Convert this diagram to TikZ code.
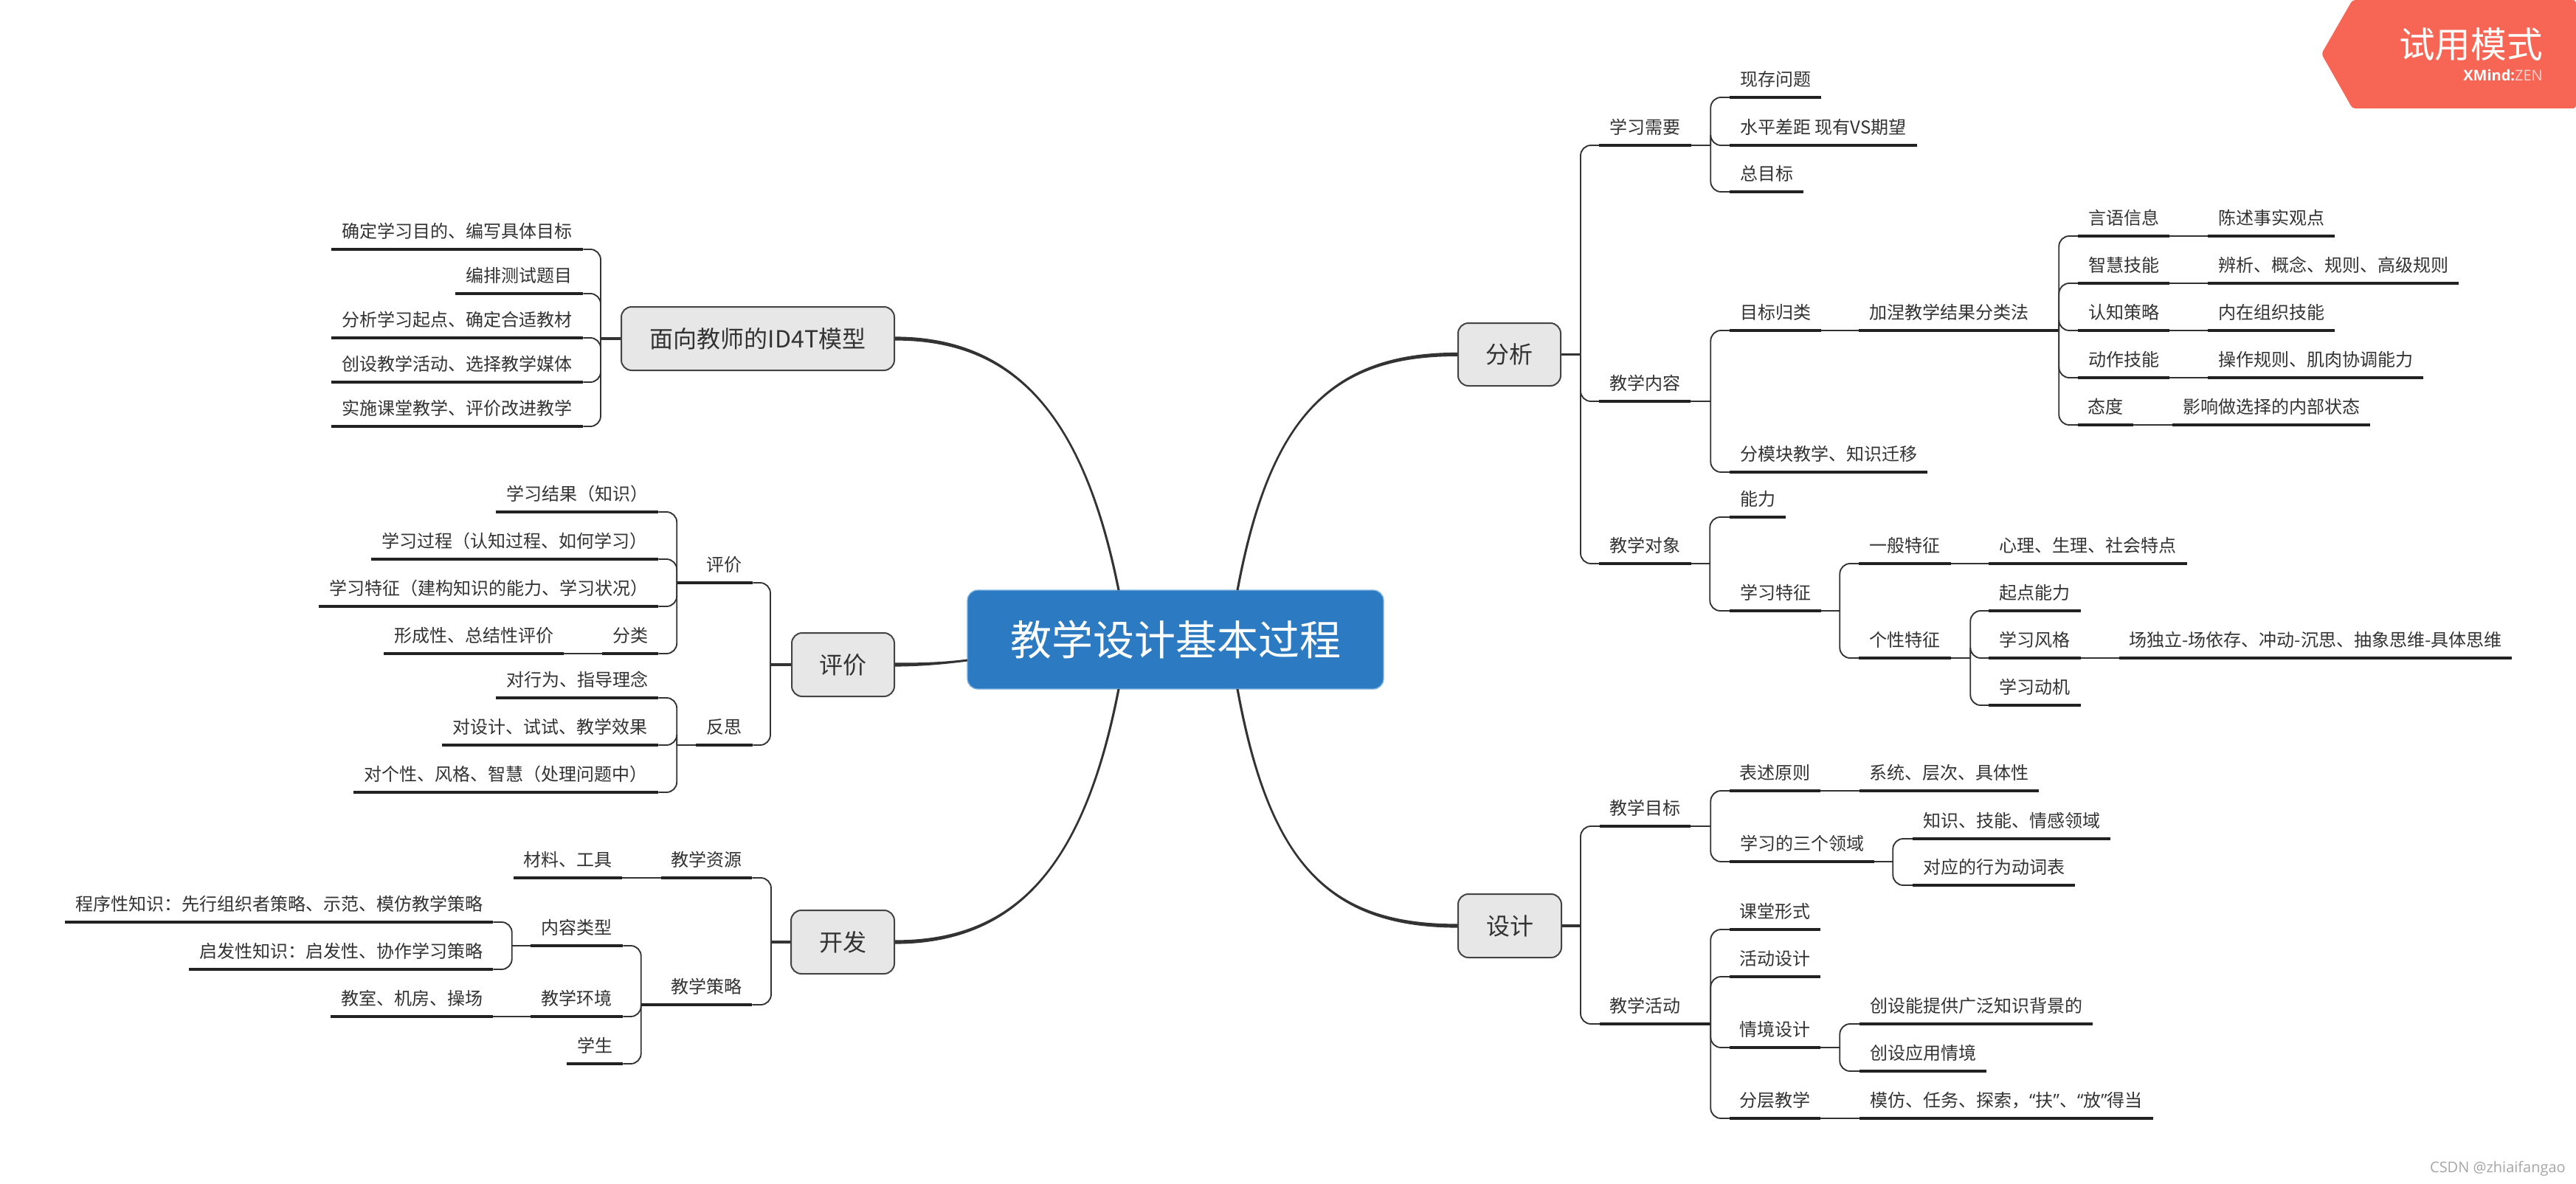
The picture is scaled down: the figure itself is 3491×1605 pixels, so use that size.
\documentclass[tikz,border=0pt]{standalone}
\usepackage{fontspec}
\setmainfont{Noto Sans CJK SC}
\newfontfamily\latinf{Open Sans}
\usetikzlibrary{calc}
\definecolor{ink}{HTML}{333333}
\definecolor{uline}{HTML}{222222}
\definecolor{rootblue}{HTML}{2C7BC2}
\definecolor{rootedge}{HTML}{7DB3E0}
\definecolor{boxfill}{HTML}{E7E7E7}
\definecolor{boxedge}{HTML}{444444}
\definecolor{banner}{HTML}{F76554}
\tikzset{
  topic/.style={inner sep=0pt,anchor=south,text=ink,text height=18.75pt,text depth=11.25pt,font=\fontsize{18}{20}\selectfont},
  underl/.style={draw=uline,line width=2.8pt},
  elbow/.style={draw=ink,line width=1.4pt,rounded corners=10.5pt},
  stubline/.style={draw=ink,line width=1.4pt},
  mainstub/.style={draw=ink,line width=2.6pt},
  maintopic/.style={draw=boxedge,fill=boxfill,line width=1.5pt,rounded corners=10.5pt,inner sep=0pt,text=ink,font=\fontsize{24}{28}\selectfont},
  rootnode/.style={draw=rootedge,fill=rootblue,line width=1pt,rounded corners=10.5pt,inner sep=0pt,text=white,font=\fontsize{42}{48}\selectfont},
}
% \Tp{name}{x0}{x1}{y}{text}: label with its underline
\newcommand\Tp[5]{%
  \node[topic,minimum width={(#3-#2)*0.75pt}] (#1) at ({(#2+#3)/2},#4) {#5};
  \draw[underl] (#1.south west) -- (#1.south east);}
% \Mt{name}{x0}{x1}{y0}{y1}{text}
\newcommand\Mt[6]{%
  \node[maintopic,minimum width={(#3-#2)*0.75pt},minimum height={(#5-#4)*0.75pt}] (#1) at ({(#2+#3)/2},{(#4+#5)/2}) {#6};}
% \Fork[stubstyle]{from}{dx}{child anchor}{children}
\newcommand\Fork[5][stubline]{%
  \path (#2) ++(#3,0) coordinate (fk);
  \draw[#1] (#2) -- (fk);
  \foreach \cc in {#5} {\draw[elbow] (fk) |- (\cc.#4);}}
% \Taper{from}{c1}{c2}{to}{nx}{ny}{sign}: curve that thickens toward its end
\newcommand\Taper[7]{%
  \fill[ink] ($(#1)+(#5,#6)$) .. controls ($(#2)+(#5,#6)$) and ($(#3)+(0,#7*2.3)$) .. ($(#4)+(0,#7*2.6)$)
    -- ($(#4)-(0,#7*2.6)$) .. controls ($(#3)-(0,#7*2.3)$) and ($(#2)-(#5,#6)$) .. ($(#1)-(#5,#6)$) -- cycle;}
\begin{document}
\begin{tikzpicture}[x=0.75pt,y=-0.75pt]
\useasboundingbox (0,0) rectangle (3491,1605);
\fill[white] (0,0) rectangle (3491,1605);

% banner
\fill[banner,rounded corners=3pt] (3491,0) -- (3188,0) -- (3146,73) -- (3188,147) -- (3491,147) -- cycle;
\node[text=white,inner sep=0pt,anchor=east,font=\fontsize{36.5}{40}\selectfont] (bannertxt) at (3446,60) {试用模式};
\node[inner sep=0pt,anchor=east,font=\latinf\fontsize{15}{18}\selectfont] (bannersub) at (3446,102) {\textcolor{white}{\bfseries XMind:}\textcolor{white!70!banner}{ZEN}};
\node[text=black!35,inner sep=0pt,anchor=east,font=\latinf\fontsize{15}{18}\selectfont] (mark) at (3477,1584) {CSDN @zhiaifangao};

% root and main topics
\node[rootnode,minimum width=423pt,minimum height=100.5pt] (root) at (1593,867) {教学设计基本过程};
\Mt{fenxi}{1976}{2115}{438}{523}{分析}
\Mt{sheji}{1976}{2116}{1212}{1298}{设计}
\Mt{idt}{842}{1212}{416}{502}{面向教师的ID4T模型}
\Mt{pingjia}{1073}{1212}{858}{944}{评价}
\Mt{kaifa}{1072}{1212}{1234}{1320}{开发}

\coordinate (rA) at (1677,800);
\coordinate (rB) at (1677,934);
\coordinate (rC) at (1516,800);
\coordinate (rD) at (1516,934);
\coordinate (rE) at (1311,895);
\Taper{rA}{1720,570}{1800,480}{fenxi.west}{1.6}{0}{1}
\Taper{rB}{1720,1170}{1800,1255}{sheji.west}{1.6}{0}{-1}
\Taper{rC}{1470,570}{1380,459}{idt.east}{1.6}{0}{-1}
\Taper{rD}{1470,1170}{1380,1277}{kaifa.east}{1.6}{0}{1}
\Taper{rE}{1280,899}{1250,901}{pingjia.east}{0}{1.5}{1}

% ---- 分析
\Tp{a1}{2167}{2292}{197}{学习需要}
\Tp{a2}{2167}{2291}{544}{教学内容}
\Tp{a3}{2167}{2292}{764}{教学对象}
\Fork[mainstub]{fenxi.east}{26}{south west}{a1,a2,a3}
\Tp{a11}{2344}{2468}{132}{现存问题}
\Tp{a12}{2344}{2598}{197}{水平差距 现有VS期望}
\Tp{a13}{2344}{2444}{260}{总目标}
\Fork{a1.south east}{26}{south west}{a11,a12,a13}
\Tp{a21}{2344}{2468}{448}{目标归类}
\Tp{a22}{2344}{2612}{640}{分模块教学、知识迁移}
\Fork{a2.south east}{27}{south west}{a21,a22}
\Tp{a211}{2519}{2764}{448}{加涅教学结果分类法}
\draw[stubline] (a21.south east) -- (a211.south west);
\Tp{b1}{2816}{2940}{320}{言语信息}
\Tp{b2}{2816}{2940}{384}{智慧技能}
\Tp{b3}{2816}{2940}{448}{认知策略}
\Tp{b4}{2816}{2940}{512}{动作技能}
\Tp{b5}{2816}{2891}{576}{态度}
\Fork[underl]{a211.south east}{26}{south west}{b1,b2,b3,b4,b5}
\Tp{c1}{2992}{3164}{320}{陈述事实观点}
\Tp{c2}{2992}{3332}{384}{辨析、概念、规则、高级规则}
\Tp{c3}{2992}{3164}{448}{内在组织技能}
\Tp{c4}{2992}{3284}{512}{操作规则、肌肉协调能力}
\Tp{c5}{2944}{3212}{576}{影响做选择的内部状态}
\draw[stubline] (b1.south east) -- (c1.south west);
\draw[stubline] (b2.south east) -- (c2.south west);
\draw[stubline] (b3.south east) -- (c3.south west);
\draw[stubline] (b4.south east) -- (c4.south west);
\draw[stubline] (b5.south east) -- (c5.south west);
\Tp{a31}{2344}{2420}{701}{能力}
\Tp{a32}{2344}{2468}{828}{学习特征}
\Fork{a3.south east}{25}{south west}{a31,a32}
\Tp{a321}{2519}{2644}{764}{一般特征}
\Tp{a322}{2519}{2644}{892}{个性特征}
\Fork{a32.south east}{25}{south west}{a321,a322}
\Tp{d1}{2695}{2964}{764}{心理、生理、社会特点}
\draw[stubline] (a321.south east) -- (d1.south west);
\Tp{d2}{2695}{2820}{828}{起点能力}
\Tp{d3}{2695}{2820}{892}{学习风格}
\Tp{d4}{2695}{2820}{956}{学习动机}
\Fork{a322.south east}{26}{south west}{d2,d3,d4}
\Tp{d31}{2872}{3404}{892}{场独立-场依存、冲动-沉思、抽象思维-具体思维}
\draw[stubline] (d3.south east) -- (d31.south west);

% ---- 设计
\Tp{s1}{2168}{2291}{1120}{教学目标}
\Tp{s2}{2168}{2291}{1388}{教学活动}
\Fork[mainstub]{sheji.east}{25}{south west}{s1,s2}
\Tp{s11}{2344}{2467}{1072}{表述原则}
\Tp{s12}{2344}{2540}{1168}{学习的三个领域}
\Fork{s1.south east}{27}{south west}{s11,s12}
\Tp{s111}{2520}{2763}{1072}{系统、层次、具体性}
\draw[stubline] (s11.south east) -- (s111.south west);
\Tp{s121}{2592}{2860}{1137}{知识、技能、情感领域}
\Tp{s122}{2592}{2812}{1200}{对应的行为动词表}
\Fork{s12.south east}{25}{south west}{s121,s122}
\Tp{s21}{2344}{2467}{1260}{课堂形式}
\Tp{s22}{2344}{2467}{1324}{活动设计}
\Tp{s23}{2344}{2467}{1420}{情境设计}
\Tp{s24}{2344}{2467}{1516}{分层教学}
\Fork[underl]{s2.south east}{27}{south west}{s21,s22,s23,s24}
\Tp{s231}{2520}{2836}{1388}{创设能提供广泛知识背景的}
\Tp{s232}{2520}{2692}{1452}{创设应用情境}
\Fork{s23.south east}{26}{south west}{s231,s232}
\Tp{s241}{2520}{2918}{1516}{模仿、任务、探索，{\latinf “}扶{\latinf ”}、{\latinf “}放{\latinf ”}得当}
\draw[stubline] (s24.south east) -- (s241.south west);

% ---- 面向教师的ID4T模型
\Tp{i1}{449}{790}{338}{确定学习目的、编写具体目标}
\Tp{i2}{617}{790}{398}{编排测试题目}
\Tp{i3}{449}{790}{458}{分析学习起点、确定合适教材}
\Tp{i4}{449}{790}{518}{创设教学活动、选择教学媒体}
\Tp{i5}{449}{790}{578}{实施课堂教学、评价改进教学}
\Fork[mainstub]{idt.west}{-27}{south east}{i1,i2,i3,i4,i5}

% ---- 评价
\Tp{p1}{943}{1020}{790}{评价}
\Tp{p2}{943}{1020}{1010}{反思}
\Fork[mainstub]{pingjia.west}{-28}{south east}{p1,p2}
\Tp{p11}{672}{892}{694}{学习结果（知识）}
\Tp{p12}{503}{892}{758}{学习过程（认知过程、如何学习）}
\Tp{p13}{432}{892}{822}{学习特征（建构知识的能力、学习状况）}
\Tp{p14}{816}{892}{886}{分类}
\Fork[underl]{p1.south west}{-25.5}{south east}{p11,p12,p13,p14}
\Tp{p141}{520}{764}{886}{形成性、总结性评价}
\draw[stubline] (p14.south west) -- (p141.south east);
\Tp{p21}{672}{892}{946}{对行为、指导理念}
\Tp{p22}{599}{892}{1010}{对设计、试试、教学效果}
\Tp{p23}{479}{892}{1074}{对个性、风格、智慧（处理问题中）}
\Fork{p2.south west}{-25.5}{south east}{p21,p22,p23}

% ---- 开发
\Tp{k1}{896}{1019}{1190}{教学资源}
\Tp{k2}{896}{1019}{1362}{教学策略}
\Fork[mainstub]{kaifa.west}{-26}{south east}{k1,k2}
\Tp{k11}{696}{843}{1190}{材料、工具}
\draw[stubline] (k1.south west) -- (k11.south east);
\Tp{k21}{719}{844}{1282}{内容类型}
\Tp{k22}{719}{844}{1378}{教学环境}
\Tp{k23}{768}{844}{1442}{学生}
\Fork[underl]{k2.south west}{-27}{south east}{k21,k22,k23}
\Tp{k211}{88}{668}{1250}{程序性知识：先行组织者策略、示范、模仿教学策略}
\Tp{k212}{256}{668}{1314}{启发性知识：启发性、协作学习策略}
\Fork{k21.south west}{-25}{south east}{k211,k212}
\Tp{k221}{448}{668}{1378}{教室、机房、操场}
\draw[stubline] (k22.south west) -- (k221.south east);
\end{tikzpicture}
\end{document}
